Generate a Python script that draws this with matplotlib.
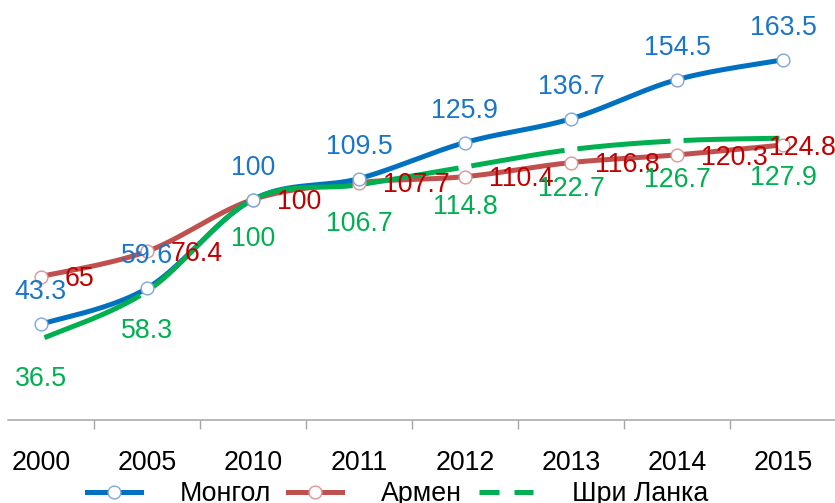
import matplotlib.pyplot as plt
import numpy as np
from matplotlib.lines import Line2D

plt.rcParams['font.family'] = ['Liberation Sans', 'DejaVu Sans']

years = ['2000', '2005', '2010', '2011', '2012', '2013', '2014', '2015']
mongol = [43.3, 59.6, 100, 109.5, 125.9, 136.7, 154.5, 163.5]
armen = [65, 76.4, 100, 107.7, 110.4, 116.8, 120.3, 124.8]
sri_lanka = [36.5, 58.3, 100, 106.7, 114.8, 122.7, 126.7, 127.9]
names = ['Монгол', 'Армен', 'Шри Ланка']

blue, red, green = '#0070C0', '#C0504D', '#00B050'
blue_lbl, red_lbl, green_lbl = '#1B75C8', '#C00000', '#00B050'
FS = 19.3
LW = 3.6


def smooth_segments(y, n=40):
    # Catmull-Rom style smoothing like Excel's smoothed line
    x = np.arange(len(y), dtype=float)
    p = np.column_stack([x, np.asarray(y, dtype=float)])
    ext = np.vstack([p[0], p, p[-1]])
    segs = []
    for i in range(len(p) - 1):
        p0, p1, p2, p3 = ext[i], ext[i + 1], ext[i + 2], ext[i + 3]
        m1 = (p2 - p0) / 2
        m2 = (p3 - p1) / 2
        t = np.linspace(0, 1, n)[:, None]
        h00 = 2 * t**3 - 3 * t**2 + 1
        h10 = t**3 - 2 * t**2 + t
        h01 = -2 * t**3 + 3 * t**2
        h11 = t**3 - t**2
        segs.append(h00 * p1 + h10 * m1 + h01 * p2 + h11 * m2)
    return segs


fig = plt.figure(figsize=(8.35, 5.03), dpi=100)
ax = fig.add_axes([8 / 835, 83.5 / 503, 828 / 835, 419.5 / 503])

xs = np.arange(len(years))

# smoothed lines
for vals, col in [(armen, red), (mongol, blue)]:
    curve = np.vstack(smooth_segments(vals))
    ax.plot(curve[:, 0], curve[:, 1], color=col, lw=LW, solid_capstyle='butt', zorder=2)

# green: long dashes, one per segment
for seg in smooth_segments(sri_lanka, n=200):
    k = int(len(seg) * 0.06)
    part = seg[k:len(seg) - k]
    ax.plot(part[:, 0], part[:, 1], color=green, lw=LW, solid_capstyle='butt', zorder=3)

# markers on top
ax.plot(xs, armen, ls='none', marker='o', ms=9.2, mfc='white', mec='#D99694', mew=1, zorder=4)
ax.plot(xs, mongol, ls='none', marker='o', ms=9.2, mfc='white', mec='#7FA6D6', mew=1, zorder=4)

# data labels
for x, v in zip(xs, mongol):
    ax.annotate(f'{v:g}', (x, v), xytext=(0, 23), textcoords='offset points',
                ha='center', va='center', color=blue_lbl, fontsize=FS, zorder=5)
for i, (x, v) in enumerate(zip(xs, armen)):
    dx = 17 if i < len(armen) - 1 else -10
    ax.annotate(f'{v:g}', (x, v), xytext=(dx, -2), textcoords='offset points',
                ha='left', va='center', color=red_lbl, fontsize=FS, zorder=5)
for x, v in zip(xs, sri_lanka):
    ax.annotate(f'{v:g}', (x, v), xytext=(0, -28.5), textcoords='offset points',
                ha='center', va='center', color=green_lbl, fontsize=FS, zorder=6)

ax.set_xlim(-0.31, 7.5)
ax.set_ylim(0, 190.7)
ax.set_xticks(xs)
ax.set_xticklabels(years, fontsize=FS)
ax.set_xticks(np.arange(0.5, 7.5, 1), minor=True)
ax.tick_params(axis='x', which='major', length=0, pad=22)
ax.tick_params(axis='x', which='minor', length=6.5, width=1, color='#A6A6A6', direction='out')
ax.set_yticks([])
for s in ['left', 'top', 'right']:
    ax.spines[s].set_visible(False)
ax.spines['bottom'].set_color('#A6A6A6')
ax.spines['bottom'].set_linewidth(1.1)

handles = [
    Line2D([], [], color=blue, lw=LW, marker='o', ms=9.2, mfc='white', mec='#7FA6D6', mew=1),
    Line2D([], [], color=red, lw=LW, marker='o', ms=9.2, mfc='white', mec='#D99694', mew=1),
    Line2D([], [], color=green, lw=LW, dashes=(4, 3)),
]
fig.legend(handles, names, loc='center', bbox_to_anchor=(0.476, 0.018), ncol=3,
           frameon=False, fontsize=FS, handlelength=2.0, handletextpad=1.45,
           columnspacing=0.65, borderpad=0, borderaxespad=0)

fig.savefig('out.png', dpi=100)
